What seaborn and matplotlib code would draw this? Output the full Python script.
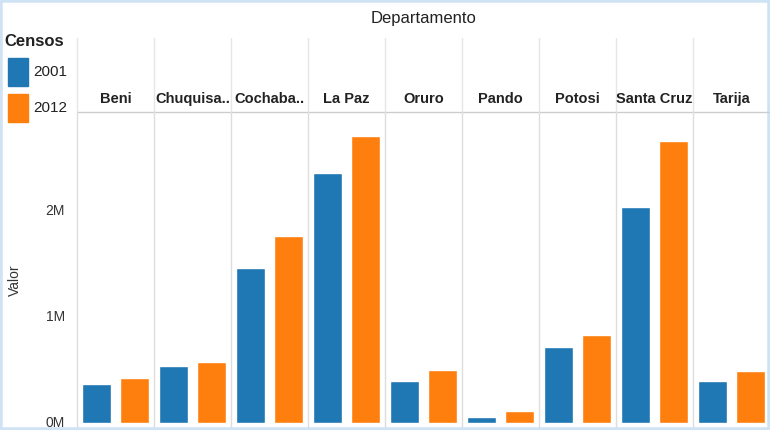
import pandas as pd
import matplotlib
matplotlib.use("Agg")
import matplotlib.pyplot as plt
import seaborn as sns

departamentos = ["Beni", "Chuquisa..", "Cochaba..", "La Paz", "Oruro", "Pando", "Potosi", "Santa Cruz", "Tarija"]
censo_2001 = [362521, 531522, 1455711, 2350466, 391870, 52525, 709013, 2029471, 391226]
censo_2012 = [421196, 576153, 1758143, 2706351, 494178, 110436, 823517, 2655084, 482196]
censos = ["2001", "2012"]
colores = {"2001": "#1f77b4", "2012": "#ff7f0e"}

rows = []
for d, a, b in zip(departamentos, censo_2001, censo_2012):
    rows.append({"Departamento": d, "Censos": "2001", "Valor": a})
    rows.append({"Departamento": d, "Censos": "2012", "Valor": b})
df = pd.DataFrame(rows)

sns.set_style("white")
plt.rcParams["font.family"] = ["Liberation Sans", "DejaVu Sans"]

W, H = 770, 430
fig = plt.figure(figsize=(W / 100, H / 100), dpi=100)
fig.patch.set_facecolor("white")

x0, pw = 77, (770 - 77) / 9
top, bottom = 112, 430
ymin, ymax = -0.07e6, 2.93e6

for i, d in enumerate(departamentos):
    ax = fig.add_axes([(x0 + i * pw) / W, 0, pw / W, (H - top) / H])
    sub = df[df["Departamento"] == d]
    sns.barplot(data=sub, x="Censos", y="Valor", hue="Censos", palette=colores,
                order=censos, hue_order=censos, width=0.76, legend=False, ax=ax,
                saturation=1)
    ax.set_ylim(ymin, ymax)
    ax.set_xlim(-0.52, 1.52)
    ax.set_xticks([])
    ax.set_xlabel("")
    ax.set_ylabel("")
    ax.set_yticks([])
    for s in ["top", "bottom", "right"]:
        ax.spines[s].set_visible(False)
    ax.spines["left"].set_color("#dddddd")
    ax.spines["left"].set_linewidth(1)
    fig.text((x0 + (i + 0.5) * pw) / W, 1 - 99 / H, d, ha="center", va="center",
             fontsize=10.5, fontweight="bold", color="#222222")
    if i == 0:
        for v, lab in [(0, "0M"), (1e6, "1M"), (2e6, "2M")]:
            yp = (v - ymin) / (ymax - ymin) * (H - top) / H
            fig.text(65 / W, yp, lab, ha="right", va="center", fontsize=10, color="#333333")

# header line and separators
fig.add_artist(plt.Line2D([x0 / W, 1], [1 - top / H] * 2, color="#cccccc", lw=1))
for i in range(10):
    xx = (x0 + i * pw) / W
    fig.add_artist(plt.Line2D([xx, xx], [1 - top / H, 1 - 38 / H], color="#e6e6e6", lw=1))

fig.text((x0 + 693 / 2) / W, 1 - 18 / H, "Departamento", ha="center", va="center",
         fontsize=12, color="#222222")
fig.text(15 / W, 1 - 280 / H, "Valor", rotation=90, ha="center", va="center",
         fontsize=10, color="#333333")

# legend
fig.text(4 / W, 1 - 42 / H, "Censos", ha="left", va="center", fontsize=12,
         fontweight="bold", color="#222222")
for j, (c, yy) in enumerate(zip(censos, [72, 108])):
    fig.add_artist(plt.Rectangle((8 / W, 1 - (yy + 14) / H), 20 / W, 28 / H,
                                 color=colores[c], transform=fig.transFigure))
    fig.text(33 / W, 1 - yy / H, c, ha="left", va="center", fontsize=11, color="#222222")

# light frame
fig.add_artist(plt.Rectangle((0, 0), 1, 1, fill=False, edgecolor="#cfe3f5", lw=4,
                             transform=fig.transFigure))

fig.savefig("out.png", dpi=100)
